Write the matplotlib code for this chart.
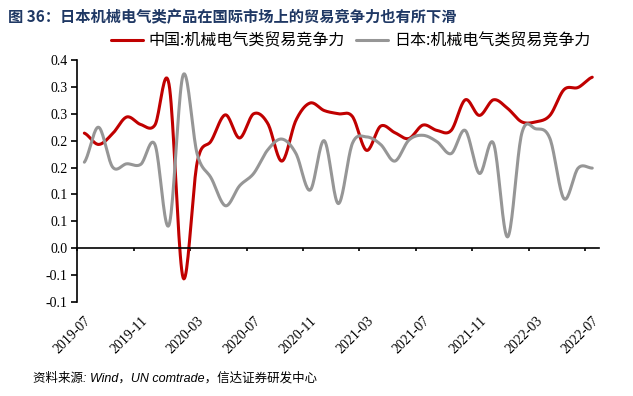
import numpy as np
import matplotlib
matplotlib.use('Agg')
import matplotlib.pyplot as plt
from matplotlib.transforms import blended_transform_factory

plt.rcParams['font.family'] = ['Noto Sans CJK SC', 'DejaVu Sans']

# monthly, 2019-07 .. 2022-07 (37 months)
china = [0.214, 0.193, 0.213, 0.244, 0.230, 0.229, 0.305, -0.055, 0.160, 0.200,
         0.248, 0.205, 0.250, 0.232, 0.162, 0.238, 0.270, 0.256, 0.250, 0.245,
         0.182, 0.227, 0.215, 0.204, 0.229, 0.219, 0.219, 0.276, 0.247, 0.276,
         0.260, 0.235, 0.235, 0.247, 0.295, 0.299, 0.318]
japan = [0.160, 0.225, 0.151, 0.157, 0.156, 0.193, 0.043, 0.322, 0.175, 0.130,
         0.079, 0.116, 0.139, 0.183, 0.203, 0.176, 0.108, 0.200, 0.083, 0.195,
         0.207, 0.193, 0.162, 0.201, 0.210, 0.198, 0.176, 0.219, 0.139, 0.195,
         0.021, 0.213, 0.222, 0.204, 0.092, 0.149, 0.149]

xlabels = ['2019-07', '2019-11', '2020-03', '2020-07', '2020-11',
           '2021-03', '2021-07', '2021-11', '2022-03', '2022-07']
yticks = [-0.1, -0.05, 0.0, 0.05, 0.1, 0.15, 0.2, 0.25, 0.3, 0.35]
ylabels = ['-0.1', '-0.1', '0.0', '0.1', '0.1', '0.2', '0.2', '0.3', '0.3', '0.4']

name_cn = '中国:机械电气类贸易竞争力'
name_jp = '日本:机械电气类贸易竞争力'


def smooth(y, n=20):
    # catmull-rom, like excel's smoothed line
    y = np.asarray(y, float)
    p = np.concatenate([[y[0]], y, [y[-1]]])
    t = np.linspace(0, 1, n, endpoint=False)
    xs, ys = [], []
    for i in range(len(y) - 1):
        p0, p1, p2, p3 = p[i], p[i + 1], p[i + 2], p[i + 3]
        ys.append(0.5 * (2 * p1 + (-p0 + p2) * t + (2 * p0 - 5 * p1 + 4 * p2 - p3) * t ** 2
                         + (-p0 + 3 * p1 - 3 * p2 + p3) * t ** 3))
        xs.append(i + t)
    xs.append([len(y) - 1])
    ys.append([y[-1]])
    return np.concatenate(xs) + 0.5, np.concatenate(ys)


fig = plt.figure(figsize=(6.33, 3.96), dpi=100)
ax = fig.add_axes([77.3 / 633, 1 - 302 / 396, 522 / 633, 242 / 396])

xc, yc = smooth(china)
xj, yj = smooth(japan)
ax.plot(xc, yc, color='#C00000', lw=2.2, label=name_cn, solid_capstyle='round')
ax.plot(xj, yj, color='#969696', lw=2.2, label=name_jp, solid_capstyle='round')

ax.set_xlim(0, len(china))
ax.set_ylim(-0.1, 0.35)

for s in ['top', 'right']:
    ax.spines[s].set_visible(False)
ax.spines['bottom'].set_position(('data', 0))
ax.spines['left'].set_linewidth(1.2)
ax.spines['bottom'].set_linewidth(1.2)

ax.set_yticks(yticks)
ax.set_yticklabels(ylabels, family='Liberation Serif', fontsize=10)
ax.tick_params(axis='y', direction='out', length=4, width=1.2, pad=3)

ax.set_xticks(range(0, len(china), 4))
ax.set_xticklabels([])
ax.tick_params(axis='x', direction='out', length=2.5, width=1.2)

trans = blended_transform_factory(ax.transData, ax.transAxes)
for k, lab in enumerate(xlabels):
    ax.text(k * 4 + 0.5, -0.05, lab, transform=trans, rotation=45,
            ha='right', va='top', rotation_mode='anchor',
            family='Liberation Serif', fontsize=10)

fig.text(8 / 633, 1 - 17 / 396, '图 36：日本机械电气类产品在国际市场上的贸易竞争力也有所下滑',
         fontsize=11, fontweight='bold', color='#1F3864', va='center')

fig.legend(loc='center', bbox_to_anchor=(350.5 / 633, 1 - 41 / 396), ncol=2, frameon=False,
           fontsize=11.5, handlelength=2.0, handletextpad=0.37, columnspacing=0.7,
           borderpad=0, borderaxespad=0)

fig.text(33 / 633, 1 - 378 / 396, '资料来源: Wind，UN comtrade，信达证券研发中心',
         fontsize=9, style='italic', va='center',
         family=['Liberation Sans', 'Noto Sans CJK SC'])

fig.savefig('out.png', dpi=100)
